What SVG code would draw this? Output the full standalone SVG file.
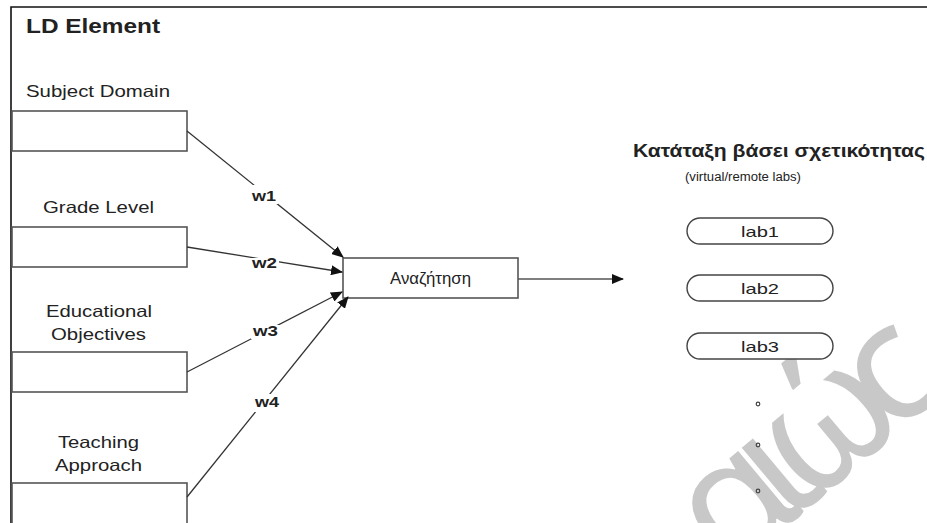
<svg xmlns="http://www.w3.org/2000/svg" width="927" height="523" viewBox="0 0 927 523">
<style>
text{font-family:"Liberation Sans",Arial,sans-serif;fill:#222}
.lbl{font-size:16.5px}
.w{font-size:15px;font-weight:bold}
.box{fill:#fff;stroke:#555;stroke-width:1.6}
.pill{fill:#fff;stroke:#444;stroke-width:1.4}
.ln{stroke:#333;stroke-width:1.3;fill:none}
.lab{font-size:15px}
.wm{font-family:"Noto Sans",sans-serif;font-size:165px;fill:#c8c8c8}
</style>
<defs>
<marker id="ah" markerWidth="12" markerHeight="10" refX="11" refY="5" orient="auto" markerUnits="userSpaceOnUse">
<path d="M0,0 L12,5 L0,10 z" fill="#111"/>
</marker>
</defs>
<rect width="927" height="523" fill="#fff"/>
<g id="watermark">
<text class="wm" transform="translate(728,575) rotate(-40)" letter-spacing="-24">αιώc</text>
</g>
<g id="frame">
<path d="M11,523 L11,7 L927,7" fill="none" stroke="#111" stroke-width="1.6"/>
<text x="26" y="33" textLength="134" lengthAdjust="spacingAndGlyphs" style="font-size:21px;font-weight:bold">LD Element</text>
</g>
<g id="subject-domain">
<text class="lbl" x="26" y="97" textLength="144" lengthAdjust="spacingAndGlyphs">Subject Domain</text>
<rect class="box" x="12" y="111" width="175" height="40"/>
</g>
<g id="grade-level">
<text class="lbl" x="43" y="213" textLength="111" lengthAdjust="spacingAndGlyphs">Grade Level</text>
<rect class="box" x="12" y="227" width="175" height="40"/>
</g>
<g id="educational-objectives">
<text class="lbl" x="46" y="317" textLength="106" lengthAdjust="spacingAndGlyphs">Educational</text>
<text class="lbl" x="51" y="340" textLength="95" lengthAdjust="spacingAndGlyphs">Objectives</text>
<rect class="box" x="12" y="352" width="175" height="40"/>
</g>
<g id="teaching-approach">
<text class="lbl" x="58" y="448" textLength="81" lengthAdjust="spacingAndGlyphs">Teaching</text>
<text class="lbl" x="55" y="471" textLength="87" lengthAdjust="spacingAndGlyphs">Approach</text>
<rect class="box" x="12" y="483" width="175" height="45"/>
</g>
<g id="search">
<rect class="box" x="343" y="258" width="175" height="40"/>
<text x="390" y="284" textLength="81" lengthAdjust="spacingAndGlyphs" style="font-size:16px">Αναζήτηση</text>
</g>
<g id="connectors">
<line class="ln" x1="187" y1="131" x2="343" y2="257" marker-end="url(#ah)"/>
<line class="ln" x1="187" y1="247" x2="342" y2="272" marker-end="url(#ah)"/>
<line class="ln" x1="187" y1="372" x2="342" y2="292" marker-end="url(#ah)"/>
<line class="ln" x1="187" y1="497" x2="348" y2="297" marker-end="url(#ah)"/>
<line class="ln" x1="518" y1="279" x2="623" y2="279" marker-end="url(#ah)" style="stroke:#555;stroke-width:1.6"/>
<rect x="250" y="185" width="28" height="19" fill="#fff"/>
<text class="w" x="252" y="201" textLength="24" lengthAdjust="spacingAndGlyphs">w1</text>
<rect x="250" y="258" width="29" height="14" fill="#fff"/>
<text class="w" x="252" y="268" textLength="25" lengthAdjust="spacingAndGlyphs">w2</text>
<rect x="251" y="325" width="29" height="14" fill="#fff"/>
<text class="w" x="253" y="336" textLength="25" lengthAdjust="spacingAndGlyphs">w3</text>
<rect x="253" y="394" width="28" height="18" fill="#fff"/>
<text class="w" x="255" y="407" textLength="24" lengthAdjust="spacingAndGlyphs">w4</text>
</g>
<g id="ranking">
<text x="633" y="157" textLength="292" lengthAdjust="spacingAndGlyphs" style="font-size:18px;font-weight:bold">Κατάταξη βάσει σχετικότητας</text>
<text x="685" y="181" textLength="116" lengthAdjust="spacingAndGlyphs" style="font-size:12.5px">(virtual/remote labs)</text>
</g>
<g id="lab1">
<rect class="pill" x="687" y="218" width="146" height="26" rx="13"/>
<text class="lab" x="741" y="237" textLength="38" lengthAdjust="spacingAndGlyphs">lab1</text>
</g>
<g id="lab2">
<rect class="pill" x="687" y="275" width="146" height="26" rx="13"/>
<text class="lab" x="741" y="294" textLength="38" lengthAdjust="spacingAndGlyphs">lab2</text>
</g>
<g id="lab3">
<rect class="pill" x="687" y="333" width="146" height="26" rx="13"/>
<text class="lab" x="741" y="352" textLength="38" lengthAdjust="spacingAndGlyphs">lab3</text>
</g>
<g id="dots" fill="none" stroke="#444" stroke-width="1.2">
<circle cx="758" cy="404" r="1.8"/>
<circle cx="758" cy="445" r="1.8"/>
<circle cx="758" cy="491" r="1.8"/>
</g>
</svg>
